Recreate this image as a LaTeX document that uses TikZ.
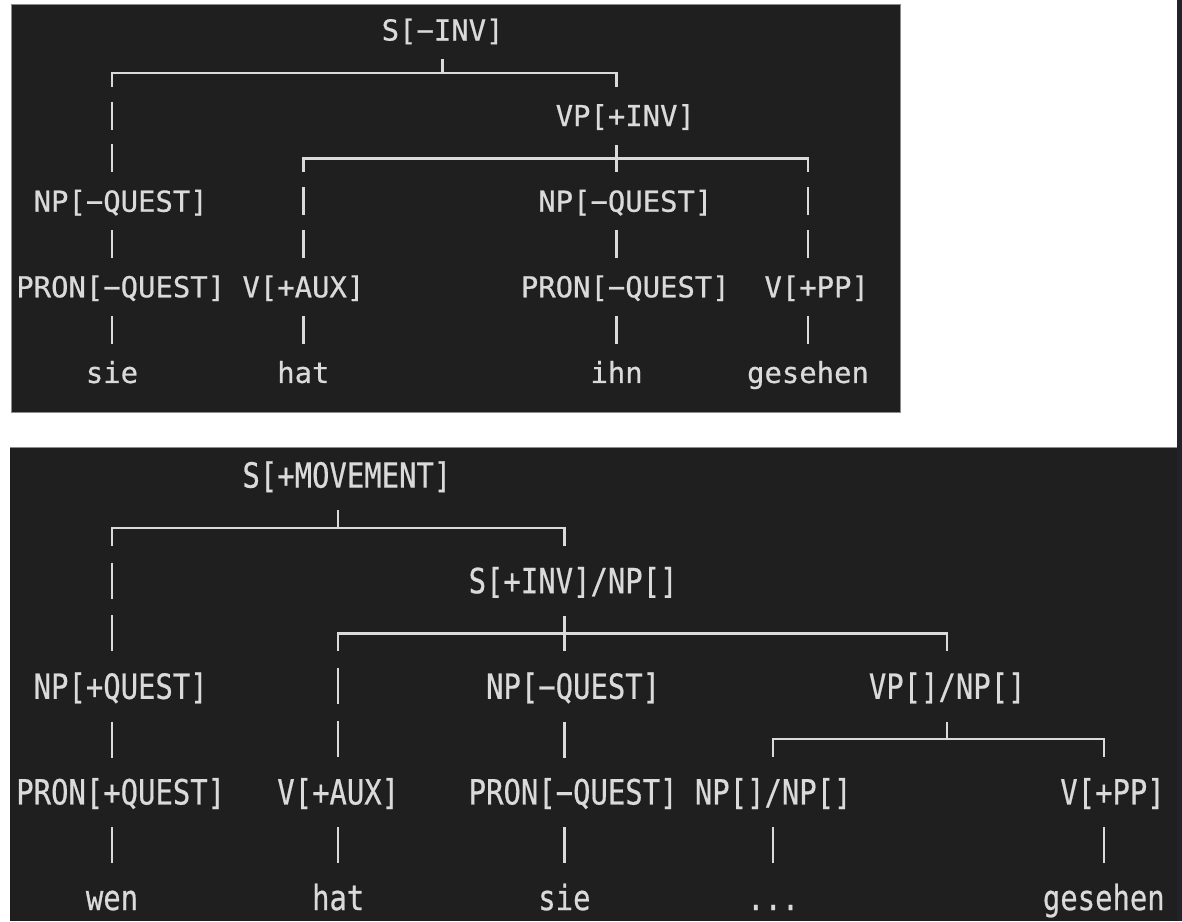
\documentclass[tikz,border=0pt]{standalone}
\usepackage{fontspec}
\setmonofont{DejaVu Sans Mono}[FakeBold=0.6]
\usepackage{tikz}

\definecolor{termbg}{RGB}{31,31,31}
\definecolor{termfg}{RGB}{218,218,218}
\definecolor{termedge}{RGB}{140,140,140}
\definecolor{sidebar}{RGB}{32,36,42}

\tikzset{
  lbl/.style={text=termfg, font=\ttfamily\fontsize{14.45pt}{17pt}\selectfont,
    inner xsep=0pt, inner ysep=3pt, text height=10.53pt, text depth=0pt},
  tall/.style={lbl, yscale=1.2},
  wire/.style={draw=termfg, line width=1.15pt},
  hbar/.style={wire, line cap=rect},
  tdrop/.style={wire, dash pattern=on 14pt off 7.4pt, dash phase=7pt},
  tlink/.style={wire, dash pattern=on 14pt off 7.4pt, dash phase=15.27pt},
  bdrop/.style={wire, dash pattern=on 18pt off 8.4pt, dash phase=9pt},
  blink/.style={wire, dash pattern=on 18pt off 8.4pt, dash phase=18.9pt}
}

\begin{document}
\begin{tikzpicture}[x=0.5pt,y=-0.5pt]
	\fill[white] (0,0) rectangle (1182,921);
	\fill[termbg] (11,4) rectangle (900,412);
	\draw[termedge, line width=0.5pt] (11,4) rectangle (900,412);
	\fill[termbg] (10,447) rectangle (1177,921);
	\draw[termedge, line width=0.5pt] (10,447) -- (1177,447);
	\fill[sidebar] (1177,0) rectangle (1182,921);

	\node[lbl] (sInv) at (442.6,30) {S[−INV]};
	\node[lbl] (vpInv) at (625.3,115.6) {VP[+INV]};
	\node[lbl] (npA) at (120.7,201.2) {NP[−QUEST]};
	\node[lbl] (npB) at (625.3,201.2) {NP[−QUEST]};
	\node[lbl] (pronA) at (120.7,286.8) {PRON[−QUEST]};
	\node[lbl] (vAux) at (303.4,286.8) {V[+AUX]};
	\node[lbl] (pronB) at (625.3,286.8) {PRON[−QUEST]};
	\node[lbl] (vPP) at (816.7,286.8) {V[+PP]};
	\node[lbl] (sie) at (112,372.4) {sie};
	\node[lbl] (hat) at (303.4,372.4) {hat};
	\node[lbl] (ihn) at (616.6,372.4) {ihn};
	\node[lbl] (gesehen) at (808,372.4) {gesehen};

	\coordinate (sInvL) at (112,72.8);
	\coordinate (sInvM) at (442.6,72.8);
	\coordinate (sInvR) at (616.6,72.8);
	\coordinate (vpInvL) at (303.4,158.4);
	\coordinate (vpInvM) at (616.6,158.4);
	\coordinate (vpInvR) at (808,158.4);

	\draw[hbar] (sInvL) -- (sInvR);
	\draw[tlink] (sInv.south) -- (sInvM);
	\draw[tdrop] (sInvL) -- (npA.north -| sInvL);
	\draw[tdrop] (sInvR) -- (vpInv.north -| sInvR);
	\draw[hbar] (vpInvL) -- (vpInvR);
	\draw[tlink] (vpInv.south -| vpInvM) -- (vpInvM);
	\draw[tdrop] (vpInvL) -- (vAux.north);
	\draw[tdrop] (vpInvM) -- (npB.north -| vpInvM);
	\draw[tdrop] (vpInvR) -- (vPP.north -| vpInvR);
	\draw[tlink] (npA.south -| sie) -- (pronA.north -| sie);
	\draw[tlink] (pronA.south -| sie) -- (sie.north);
	\draw[tlink] (vAux.south) -- (hat.north);
	\draw[tlink] (npB.south -| ihn) -- (pronB.north -| ihn);
	\draw[tlink] (pronB.south -| ihn) -- (ihn.north);
	\draw[tlink] (vPP.south -| gesehen) -- (gesehen.north);

	\node[tall] (sMov) at (346.9,475) {S[+MOVEMENT]};
	\node[tall] (sInvNp) at (573.1,580.6) {S[+INV]/NP[]};
	\node[tall] (npQ) at (120.7,686.2) {NP[+QUEST]};
	\node[tall] (npC) at (573.1,686.2) {NP[−QUEST]};
	\node[tall] (vpNp) at (947.2,686.2) {VP[]/NP[]};
	\node[tall] (pronQ) at (120.7,791.8) {PRON[+QUEST]};
	\node[tall] (vAuxB) at (338.2,791.8) {V[+AUX]};
	\node[tall] (pronC) at (573.1,791.8) {PRON[−QUEST]};
	\node[tall] (npNp) at (773.2,791.8) {NP[]/NP[]};
	\node[tall] (vPPB) at (1112.5,791.8) {V[+PP]};
	\node[tall] (wen) at (112,897.4) {wen};
	\node[tall] (hatB) at (338.2,897.4) {hat};
	\node[tall] (sieB) at (564.4,897.4) {sie};
	\node[tall] (dots) at (773.2,897.4) {...};
	\node[tall] (gesehenB) at (1103.8,897.4) {gesehen};

	\coordinate (sMovL) at (112,527.8);
	\coordinate (sMovM) at (338.2,527.8);
	\coordinate (sMovR) at (564.4,527.8);
	\coordinate (sInvNpL) at (338.2,633.4);
	\coordinate (sInvNpM) at (564.4,633.4);
	\coordinate (sInvNpR) at (947.2,633.4);
	\coordinate (vpNpL) at (773.2,739);
	\coordinate (vpNpM) at (947.2,739);
	\coordinate (vpNpR) at (1103.8,739);

	\draw[hbar] (sMovL) -- (sMovR);
	\draw[blink] (sMov.south -| sMovM) -- (sMovM);
	\draw[bdrop] (sMovL) -- (npQ.north -| sMovL);
	\draw[bdrop] (sMovR) -- (sInvNp.north -| sMovR);
	\draw[hbar] (sInvNpL) -- (sInvNpR);
	\draw[blink] (sInvNp.south -| sInvNpM) -- (sInvNpM);
	\draw[bdrop] (sInvNpL) -- (vAuxB.north);
	\draw[bdrop] (sInvNpM) -- (npC.north -| sInvNpM);
	\draw[bdrop] (sInvNpR) -- (vpNp.north);
	\draw[hbar] (vpNpL) -- (vpNpR);
	\draw[blink] (vpNp.south) -- (vpNpM);
	\draw[bdrop] (vpNpL) -- (npNp.north);
	\draw[bdrop] (vpNpR) -- (vPPB.north -| vpNpR);
	\draw[blink] (npQ.south -| wen) -- (pronQ.north -| wen);
	\draw[blink] (pronQ.south -| wen) -- (wen.north);
	\draw[blink] (vAuxB.south) -- (hatB.north);
	\draw[blink] (npC.south -| sieB) -- (pronC.north -| sieB);
	\draw[blink] (pronC.south -| sieB) -- (sieB.north);
	\draw[blink] (npNp.south) -- (dots.north);
	\draw[blink] (vPPB.south -| gesehenB) -- (gesehenB.north);
\end{tikzpicture}
\end{document}
